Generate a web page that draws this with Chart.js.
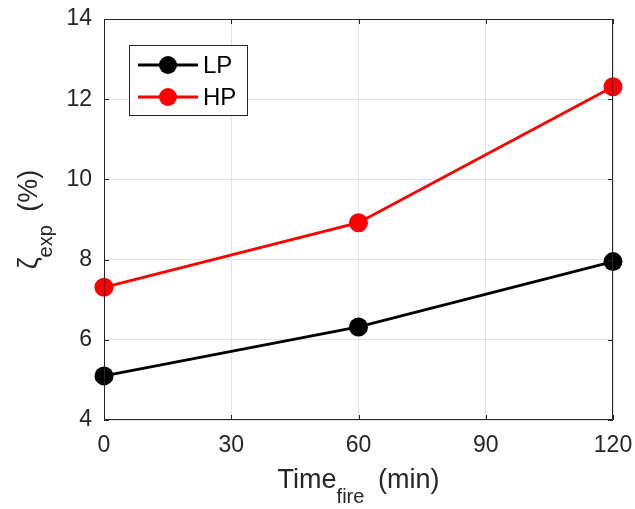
<!DOCTYPE html>
<html>
<head>
<meta charset="utf-8">
<script src="https://cdn.jsdelivr.net/npm/chart.js@4.4.1/dist/chart.umd.min.js"></script>
<style>
  html, body { margin: 0; padding: 0; background: #fff; }
  #wrap { width: 635px; height: 509px; position: relative; }
</style>
</head>
<body>
<div id="wrap"><canvas id="c"></canvas></div>
<script>
// Data
const TIMES = [0, 60, 120];
const LP = [5.1, 6.32, 7.95];
const HP = [7.31, 8.92, 12.31];
const X_TICKS = [0, 30, 60, 90, 120];
const Y_TICKS = [4, 6, 8, 10, 12, 14];

const FONT = '"Liberation Sans", Arial, Helvetica, sans-serif';
const INK = '#262626';
const GRID = '#e3e3e3';

const toPts = ys => TIMES.map((t, i) => ({ x: t, y: ys[i] }));

// box, inward ticks, titles with subscripts, legend
const decor = {
  id: 'decor',
  afterDraw(chart) {
    const { ctx, chartArea: a, scales: { x, y } } = chart;
    ctx.save();
    ctx.strokeStyle = INK;
    ctx.lineWidth = 1;
    ctx.beginPath();
    ctx.rect(a.left + 0.5, a.top + 0.5, a.right - a.left - 1, a.bottom - a.top - 1);
    X_TICKS.forEach(v => {
      const px = Math.round(x.getPixelForValue(v)) + 0.5;
      ctx.moveTo(px, a.bottom); ctx.lineTo(px, a.bottom - 5);
      ctx.moveTo(px, a.top); ctx.lineTo(px, a.top + 5);
    });
    Y_TICKS.forEach(v => {
      const py = Math.round(y.getPixelForValue(v)) + 0.5;
      ctx.moveTo(a.left, py); ctx.lineTo(a.left + 5, py);
      ctx.moveTo(a.right, py); ctx.lineTo(a.right - 5, py);
    });
    ctx.stroke();

    // axis titles (subscript followed by a small gap, like MATLAB tex)
    ctx.fillStyle = INK;
    ctx.textBaseline = 'alphabetic';
    const big = '27px ' + FONT, small = '20px ' + FONT;
    const GAP = 6;
    const drawTitle = (parts, cx, base) => {
      let w = 0;
      parts.forEach(p => { ctx.font = p.sub ? small : big; w += ctx.measureText(p.t).width + (p.sub ? GAP : 0); });
      let xx = cx - w / 2;
      parts.forEach(p => {
        ctx.font = p.sub ? small : big;
        ctx.fillText(p.t, xx, base + (p.sub ? 15 : 0));
        xx += ctx.measureText(p.t).width + (p.sub ? GAP : 0);
      });
    };
    drawTitle([{ t: 'Time' }, { t: 'fire', sub: true }, { t: ' (min)' }], (a.left + a.right) / 2, 488);
    ctx.save();
    ctx.translate(37, (a.top + a.bottom) / 2);
    ctx.rotate(-Math.PI / 2);
    drawTitle([{ t: 'ζ' }, { t: 'exp', sub: true }, { t: ' (%)' }], 0, 0);
    ctx.restore();

    // legend
    const lx = 129.5, ly = 45.5, lw = 118, lh = 70;
    ctx.fillStyle = '#fff';
    ctx.fillRect(lx, ly, lw, lh);
    ctx.strokeStyle = INK;
    ctx.strokeRect(lx, ly, lw, lh);
    chart.data.datasets.forEach((ds, i) => {
      const cy = 65 + i * 32;
      ctx.strokeStyle = ds.borderColor;
      ctx.lineWidth = 2.8;
      ctx.beginPath(); ctx.moveTo(138, cy); ctx.lineTo(198, cy); ctx.stroke();
      ctx.fillStyle = ds.backgroundColor;
      ctx.beginPath(); ctx.arc(168, cy, 9, 0, Math.PI * 2); ctx.fill();
      ctx.fillStyle = '#000';
      ctx.font = '24px ' + FONT;
      ctx.textBaseline = 'middle';
      ctx.fillText(ds.label, 203, cy + 1);
    });
    ctx.restore();
  }
};

const noPad = s => { s.paddingLeft = 0; s.paddingRight = 0; s.paddingTop = 0; s.paddingBottom = 0; };

new Chart(document.getElementById('c'), {
  type: 'line',
  data: {
    datasets: [
      { label: 'LP', data: toPts(LP), borderColor: '#000', backgroundColor: '#000' },
      { label: 'HP', data: toPts(HP), borderColor: '#ff0000', backgroundColor: '#ff0000' }
    ].map(d => Object.assign(d, {
      borderWidth: 2.8, pointRadius: 9.5, pointBorderWidth: 0, pointHoverRadius: 9.5,
      tension: 0, clip: false
    }))
  },
  options: {
    responsive: true,
    maintainAspectRatio: false,
    animation: false,
    events: [],
    layout: { padding: { top: 19, right: 22, left: 0, bottom: 0 } },
    plugins: { legend: { display: false }, tooltip: { enabled: false } },
    scales: {
      x: {
        type: 'linear', min: 0, max: 120,
        afterBuildTicks: s => { s.ticks = X_TICKS.map(v => ({ value: v })); },
        afterFit: s => { s.height = 89; noPad(s); },
        grid: { color: GRID, drawTicks: false },
        border: { display: false },
        ticks: { color: INK, font: { family: FONT, size: 23 }, padding: 12, maxRotation: 0 }
      },
      y: {
        min: 4, max: 14,
        afterBuildTicks: s => { s.ticks = Y_TICKS.map(v => ({ value: v })); },
        afterFit: s => { s.width = 104; noPad(s); },
        grid: { color: GRID, drawTicks: false },
        border: { display: false },
        ticks: { color: INK, font: { family: FONT, size: 23 }, padding: 12 }
      }
    }
  },
  plugins: [decor]
});
</script>
</body>
</html>
